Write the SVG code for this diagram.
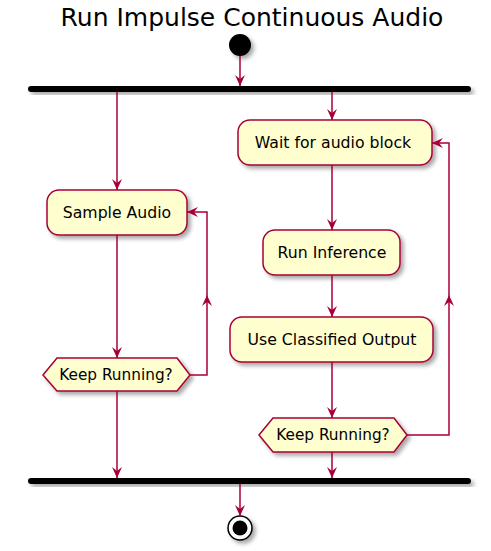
<svg xmlns="http://www.w3.org/2000/svg" width="491" height="551" viewBox="0 0 491 551">
<defs>
<filter id="sh" x="-20%" y="-20%" width="150%" height="160%">
<feGaussianBlur in="SourceAlpha" stdDeviation="2"/>
<feOffset dx="3" dy="3" result="b"/>
<feComponentTransfer><feFuncA type="linear" slope="0.35"/></feComponentTransfer>
<feMerge><feMergeNode/><feMergeNode in="SourceGraphic"/></feMerge>
</filter>
<marker id="ah" viewBox="0 0 12 12" refX="11" refY="6" markerWidth="12" markerHeight="12" markerUnits="userSpaceOnUse" orient="auto">
<path d="M0,1 L11,6 L0,11 L4,6 Z" fill="#A80036"/>
</marker>
</defs>
<style>
.t{font-family:"DejaVu Sans",sans-serif;fill:#000;text-anchor:middle}
.b{font-size:15.7px}
.h{font-size:15.3px}
.n{fill:#FEFECE;stroke:#A80036;stroke-width:1.5;filter:url(#sh)}
.c{fill:none;stroke:#A80036;stroke-width:1.5}
.bar{fill:#000;filter:url(#sh)}
</style>
<rect width="491" height="551" fill="#fff"/>
<text class="t" x="252" y="26" font-size="25">Run Impulse Continuous Audio</text>

<g id="start"><circle cx="240" cy="45" r="11" fill="#000" filter="url(#sh)"/></g>
<g id="fork"><rect class="bar" x="28" y="86" width="443" height="6" rx="3"/></g>
<g id="sample"><rect class="n" x="47" y="190" width="140" height="45" rx="12"/><text class="t b" x="117" y="218">Sample Audio</text></g>
<g id="keep1"><polygon class="n" points="43,375 57,358 177,358 190,375 177,391 57,391"/><text class="t h" x="116" y="380">Keep Running?</text></g>
<g id="wait"><rect class="n" x="238" y="120" width="194" height="45" rx="12"/><text class="t b" x="333" y="148">Wait for audio block</text></g>
<g id="infer"><rect class="n" x="263" y="230" width="137" height="45" rx="12"/><text class="t b" x="332" y="258">Run Inference</text></g>
<g id="use"><rect class="n" x="230" y="317" width="203" height="45" rx="12"/><text class="t b" x="332" y="345">Use Classified Output</text></g>
<g id="keep2"><polygon class="n" points="259,435 273,418 394,418 407,435 394,452 273,452"/><text class="t h" x="333" y="440">Keep Running?</text></g>
<g id="join"><rect class="bar" x="28" y="478" width="443" height="6" rx="3"/></g>
<g id="end"><circle cx="240" cy="528" r="12" fill="#fff" stroke="#000" stroke-width="1.5" filter="url(#sh)"/><circle cx="240" cy="528" r="7.5" fill="#000"/></g>

<g id="connectors">
<path class="c" d="M240,56 L240,86" marker-end="url(#ah)"/>
<path class="c" d="M117,92 L117,190" marker-end="url(#ah)"/>
<path class="c" d="M117,235 L117,358" marker-end="url(#ah)"/>
<path class="c" d="M190,375 L207,375 L207,295"  marker-end="url(#ah)"/>
<path class="c" d="M207,295 L207,212 L187,212" marker-end="url(#ah)"/>
<path class="c" d="M117,391 L117,478" marker-end="url(#ah)"/>
<path class="c" d="M332,92 L332,120" marker-end="url(#ah)"/>
<path class="c" d="M332,165 L332,230" marker-end="url(#ah)"/>
<path class="c" d="M332,275 L332,317" marker-end="url(#ah)"/>
<path class="c" d="M332,362 L332,418" marker-end="url(#ah)"/>
<path class="c" d="M407,435 L449,435 L449,295" marker-end="url(#ah)"/>
<path class="c" d="M449,295 L449,143 L432,143" marker-end="url(#ah)"/>
<path class="c" d="M332,452 L332,478" marker-end="url(#ah)"/>
<path class="c" d="M240,484 L240,516" marker-end="url(#ah)"/>
</g>
</svg>
